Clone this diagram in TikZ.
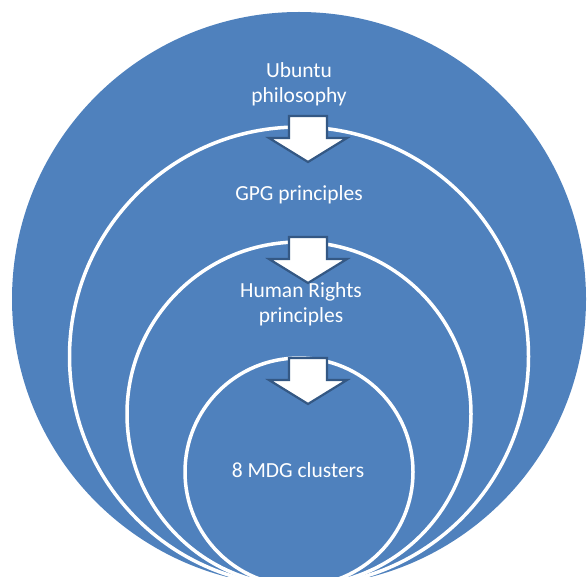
\documentclass[tikz,border=0pt]{standalone}
\usepackage{fontspec}
\setmainfont{Carlito}
\definecolor{ringblue}{RGB}{79,129,189}
\definecolor{arrowline}{RGB}{52,88,132}
\tikzset{
  ring/.style={circle, fill=ringblue, draw=white, line width=3.5pt, inner sep=0pt},
  ringtext/.style={text=white, align=center, inner sep=0pt,
    font=\fontsize{21.5}{25}\selectfont},
  blockarrow/.style={fill=white, draw=arrowline, line width=2.2pt, line join=miter}
}
\begin{document}
\begin{tikzpicture}[x=1pt, y=-1pt]
	\clip (0,0) rectangle (588,577);
	% nested rings, all meeting at the bottom
	\node[ring, draw=none, minimum size=574pt] (ubuntu) at (299,299) {};
	\node[ring, minimum size=459pt] (gpg) at (299,356.5) {};
	\node[ring, minimum size=344pt] (rights) at (299,414) {};
	\node[ring, minimum size=228pt] (mdg) at (299,472) {};
	% block arrows from one ring into the next
	\foreach \t in {116,237,358}
		\draw[blockarrow] (289,\t) -- (327,\t) -- (327,\t+22) -- (347,\t+22)
			-- (308,\t+46) -- (269,\t+22) -- (289,\t+22) -- cycle;
	% texts
	\node[ringtext] (ubuntutext) at (299,84) {Ubuntu\\philosophy};
	\node[ringtext] (gpgtext) at (299,195) {GPG principles};
	\node[ringtext] (rightstext) at (301,304) {Human Rights\\principles};
	\node[ringtext] (mdgtext) at (298,470) {8 MDG clusters};
\end{tikzpicture}
\end{document}
